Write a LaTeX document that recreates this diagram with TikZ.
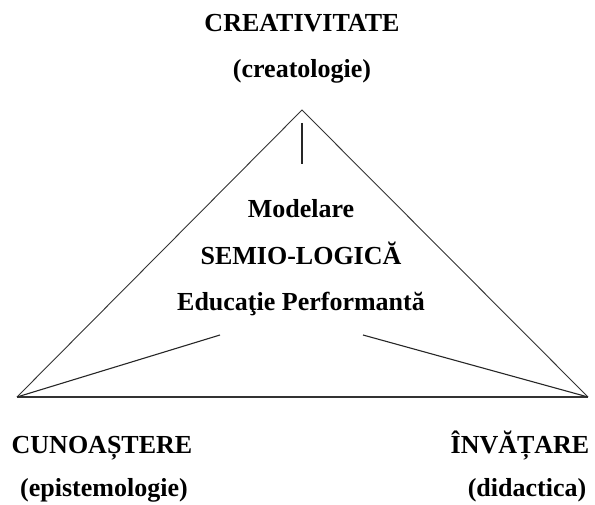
\documentclass[tikz,border=0pt]{standalone}
\usepackage{fontspec}
\setmainfont{Liberation Serif}
\begin{document}
\begin{tikzpicture}[x=1pt,y=-1pt,
  lbl/.style={font=\bfseries\fontsize{26}{30}\selectfont, anchor=base, inner sep=0pt},
  edge/.style={draw=black!80, line width=0.9pt},
  spoke/.style={draw=black!85, line width=1.1pt}]
\useasboundingbox (0,0) rectangle (595,505);
\coordinate (top) at (302,110);
\coordinate (left) at (17,397);
\coordinate (right) at (588,397);
\coordinate (vend) at (302,164);
\coordinate (vstart) at (302,123);
\coordinate (lend) at (220,335);
\coordinate (rend) at (363,335);
\draw[edge] (left) -- (top) -- (right);
\draw[edge, line width=1.3pt] (left) -- (right);
\draw[spoke] (vstart) -- (vend);
\draw[spoke] (left) -- (lend);
\draw[spoke] (right) -- (rend);
\node[lbl] (cr) at (302,32) {CREATIVITATE};
\node[lbl] (crs) at (302,78) {(creatologie)};
\node[lbl] (m1) at (301,218) {Modelare};
\node[lbl] (m2) at (301,265) {SEMIO-LOGICĂ};
\node[lbl] (m3) at (301,311) {Educaţie Performantă};
\node[lbl] (cu) at (102,453) {CUNOAȘTERE};
\node[lbl] (cus) at (104,496) {(epistemologie)};
\node[lbl] (in) at (520,453) {ÎNVĂȚARE};
\node[lbl] (ins) at (527,496) {(didactica)};
\end{tikzpicture}
\end{document}
